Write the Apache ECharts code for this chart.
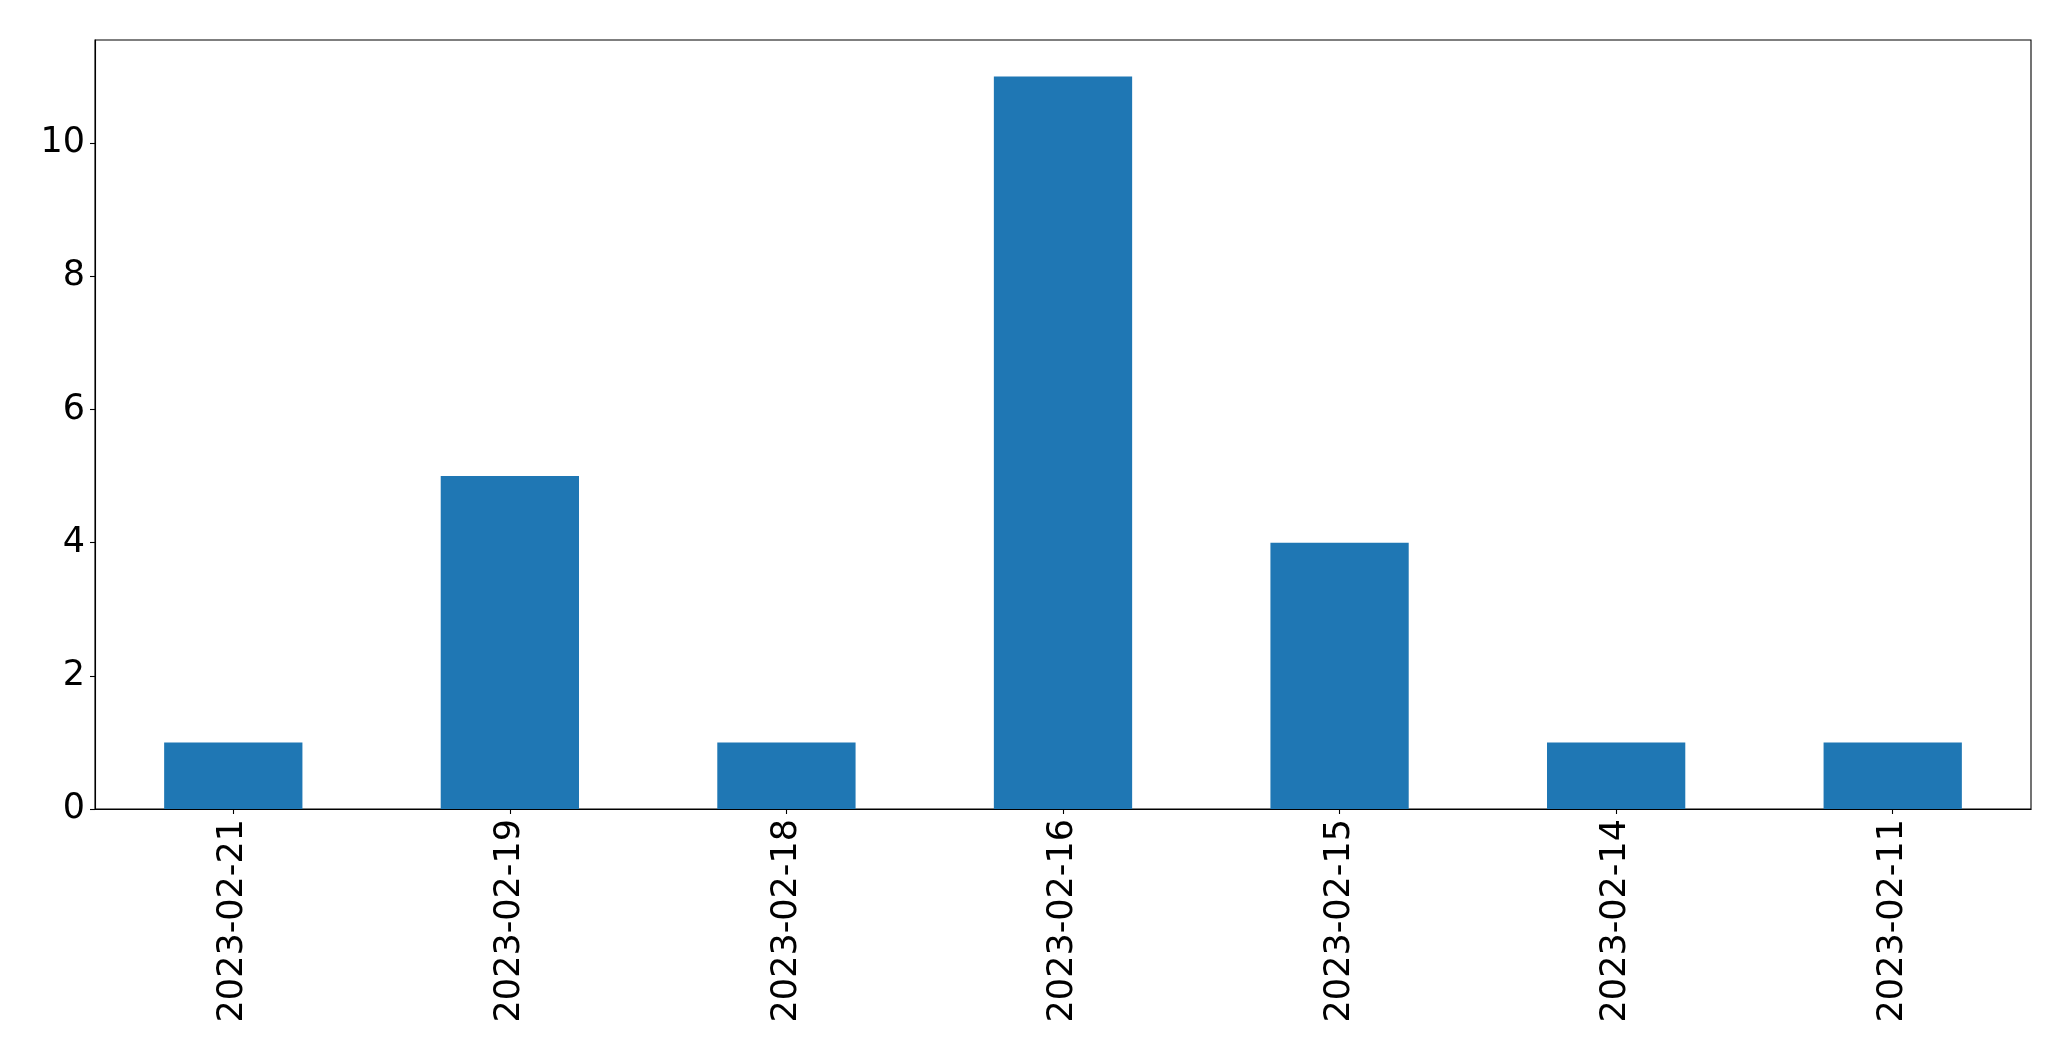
<!DOCTYPE html>
<html>
<head>
<meta charset="utf-8">
<script src="https://cdn.jsdelivr.net/npm/echarts@6/dist/echarts.min.js"></script>
<style>
html,body{margin:0;padding:0;background:#fff;}
#chart{width:2071px;height:1061px;}
</style>
</head>
<body>
<div id="chart"></div>
<script>
const categories = ['2023-02-21','2023-02-19','2023-02-18','2023-02-16','2023-02-15','2023-02-14','2023-02-11'];
const values = [1, 5, 1, 11, 4, 1, 1];
const yTicks = [0, 2, 4, 6, 8, 10];

const chart = echarts.init(document.getElementById('chart'));
chart.setOption({
  animation: false,
  backgroundColor: '#fff',
  grid: {
    left: 95, top: 40, right: 40, bottom: 252,
    show: true, borderColor: '#000', borderWidth: 1.1,
    backgroundColor: 'transparent'
  },
  xAxis: {
    type: 'category',
    data: categories,
    boundaryGap: true,
    axisLine: {show: true, lineStyle: {color: '#000', width: 1.1}},
    axisTick: {show: true, alignWithLabel: true, length: 5, lineStyle: {color: '#000', width: 1.1}},
    axisLabel: {
      rotate: 90, interval: 0, margin: 10,
      color: '#000', fontFamily: 'DejaVu Sans', fontSize: 35
    },
    splitLine: {show: false}
  },
  yAxis: {
    type: 'value',
    min: 0, max: 11.55, interval: 2,
    axisLine: {show: true, lineStyle: {color: '#000', width: 1.1}},
    axisTick: {show: true, length: 5, customValues: yTicks, lineStyle: {color: '#000', width: 1.1}},
    axisLabel: {
      customValues: yTicks, margin: 10, padding: [5, 0, 0, 0],
      color: '#000', fontFamily: 'DejaVu Sans', fontSize: 35
    },
    splitLine: {show: false}
  },
  series: [{
    type: 'bar',
    data: values,
    barWidth: '50%',
    itemStyle: {color: '#1f77b4'}
  }]
});
</script>
</body>
</html>
